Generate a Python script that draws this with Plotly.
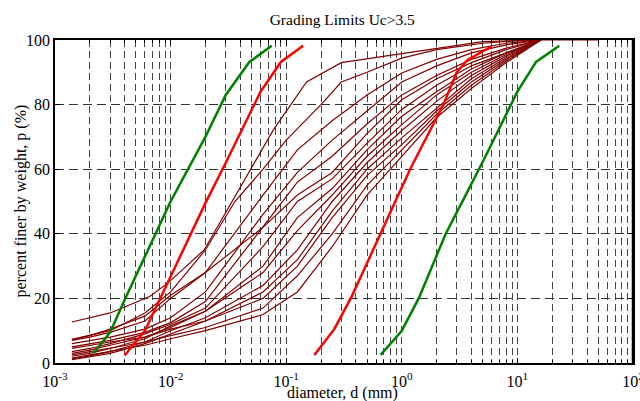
import plotly.graph_objects as go

# ---------------- data ----------------
# limit curves (diameter mm, percent finer)
green_left_d = [0.00215, 0.003, 0.004, 0.006, 0.01, 0.02, 0.03, 0.048, 0.075]
green_left_p = [3.0, 9.5, 19.5, 33.0, 50.0, 70.0, 83.0, 93.2, 98.2]
red_left_d = [0.004, 0.006, 0.02, 0.03, 0.06, 0.09, 0.14]
red_left_p = [2.3, 10.0, 49.5, 62.0, 84.0, 93.2, 98.2]
red_right_d = [0.175, 0.26, 0.37, 0.65, 0.87, 1.18, 2.29, 2.98, 3.7, 6.0]
red_right_p = [2.5, 10.4, 20.7, 40.0, 50.0, 60.0, 80.0, 90.0, 93.8, 98.0]
green_right_d = [0.656, 1.0, 1.4, 2.4, 3.4, 5.3, 10.0, 14.5, 23.0]
green_right_p = [2.5, 10.0, 20.0, 40.0, 50.5, 64.0, 84.0, 93.2, 98.2]

# sample curves
s1_d = [0.0014, 0.003, 0.0066, 0.0095, 0.0195, 0.034, 0.077, 0.15, 0.3, 5.0, 16.0, 50.0]
s1_p = [12.7, 15.5, 20.6, 24.8, 35.0, 50.0, 72.0, 87.0, 93.0, 99.5, 100.0, 100.0]
s2_d = [0.0014, 0.002, 0.003, 0.006, 0.01, 0.02, 0.036, 0.063, 0.1, 0.2, 0.3, 0.5, 1.0, 2.0, 5.0, 10.0, 16.0]
s2_p = [7.3, 8.5, 10.0, 15.5, 22.0, 35.0, 50.0, 60.0, 69.0, 80.0, 87.0, 90.0, 94.4, 97.0, 99.0, 99.8, 100.0]

grid_d = [0.0014, 0.002, 0.003, 0.006, 0.01, 0.02, 0.063, 0.125, 0.25, 0.5, 1.0, 2.0, 4.0, 8.0, 16.0]
s3_p = [7.0, 8.0, 9.5, 13.0, 20.0, 28.0, 52.0, 66.0, 75.0, 83.0, 89.8, 94.0, 97.0, 99.0, 100.0]
s4_p = [6.0, 7.0, 8.0, 10.5, 14.0, 22.0, 46.0, 59.0, 69.0, 78.0, 87.0, 92.0, 96.0, 98.5, 100.0]
s5_p = [5.0, 6.0, 7.0, 9.5, 12.5, 19.0, 42.0, 56.0, 64.0, 74.0, 83.0, 89.0, 94.0, 97.5, 100.0]
s6_p = [7.2, 8.5, 10.5, 14.5, 21.0, 28.0, 42.0, 52.0, 59.0, 71.0, 81.5, 88.0, 93.0, 97.0, 100.0]
s7_p = [3.5, 4.5, 6.0, 9.0, 12.0, 17.0, 36.0, 50.0, 57.0, 68.0, 78.5, 86.0, 92.0, 96.0, 100.0]
s8_p = [3.0, 4.0, 5.5, 8.0, 11.0, 16.0, 30.0, 45.0, 54.0, 66.0, 76.4, 84.0, 91.0, 96.0, 100.0]
s9_p = [2.1, 3.0, 4.5, 7.5, 11.5, 16.0, 28.0, 41.0, 52.0, 64.0, 73.8, 83.0, 90.0, 95.5, 100.0]
s10_p = [1.3, 2.2, 3.5, 6.5, 10.0, 14.0, 24.0, 35.0, 50.0, 62.0, 72.0, 81.0, 89.0, 95.0, 100.0]
s11_p = [1.0, 2.0, 3.0, 6.0, 9.0, 13.0, 22.0, 32.0, 47.0, 60.0, 69.7, 79.0, 88.0, 94.5, 100.0]
s12_p = [4.5, 5.5, 6.5, 8.0, 10.5, 13.0, 20.0, 30.0, 45.0, 58.0, 67.6, 78.0, 87.0, 94.0, 100.0]
s13_p = [2.5, 3.5, 4.5, 6.5, 8.5, 11.0, 17.0, 27.0, 40.0, 55.0, 66.0, 77.0, 86.0, 93.5, 100.0]
s14_p = [1.5, 2.5, 3.5, 5.5, 7.5, 10.0, 15.0, 22.0, 36.0, 52.0, 64.0, 76.0, 85.0, 93.0, 100.0]

x_tick_decades = [-3, -2, -1, 0, 1, 2]
y_ticks = [0, 20, 40, 60, 80, 100]

title_text = "Grading Limits Uc>3.5"
x_title = "diameter, d (mm)"
y_title = "percent finer by weight, p (%)"

# ---------------- figure ----------------
SERIF = "Liberation Serif, Times New Roman, serif"
MAROON = "#800000"
W, H = 640, 401
ML, MR, MT, MB = 55, 7, 40, 37.5

fig = go.Figure()

samples = [(s1_d, s1_p), (s2_d, s2_p)] + [(grid_d, p) for p in
           [s3_p, s4_p, s5_p, s6_p, s7_p, s8_p, s9_p, s10_p, s11_p, s12_p, s13_p, s14_p]]
for d, p in samples:
    fig.add_trace(go.Scatter(x=d, y=p, mode="lines",
                             line=dict(color=MAROON, width=1.2),
                             showlegend=False, hoverinfo="skip"))

for d, p, c in [(green_left_d, green_left_p, "#008000"),
                (red_left_d, red_left_p, "#ff0000"),
                (red_right_d, red_right_p, "#ff0000"),
                (green_right_d, green_right_p, "#008000")]:
    fig.add_trace(go.Scatter(x=d, y=p, mode="lines",
                             line=dict(color=c, width=2.5),
                             showlegend=False, hoverinfo="skip"))

major_vals = [10.0 ** k for k in x_tick_decades]
major_text = ["10<sup>%d</sup>" % k for k in x_tick_decades]
minor_vals = [m * 10.0 ** k for k in x_tick_decades[:-1] for m in range(2, 10)]

fig.update_layout(
    width=W, height=H,
    margin=dict(l=ML, r=MR, t=MT, b=MB, autoexpand=False),
    paper_bgcolor="white", plot_bgcolor="white",
    font=dict(family=SERIF, size=16, color="black"),
    title=dict(text=title_text, x=0.497, xref="paper", xanchor="center",
               y=1 - 20 / H, yref="container", yanchor="middle",
               font=dict(family=SERIF, size=15.5, color="black")),
    xaxis=dict(type="log", range=[-3, 2], automargin=False,
               tickmode="array", tickvals=major_vals, ticktext=major_text,
               ticks="inside", ticklen=5, tickcolor="black",
               ticklabelstandoff=3, ticklabeloverflow="allow",
               showline=True, linecolor="black", linewidth=1.5, mirror="ticks",
               showgrid=True, gridcolor="#444444", gridwidth=1, griddash="7px,4px",
               minor=dict(tickmode="array", tickvals=minor_vals,
                          ticks="inside", ticklen=3, tickcolor="black",
                          showgrid=True, gridcolor="#444444", gridwidth=1,
                          griddash="7px,4px"),
               zeroline=False),
    yaxis=dict(range=[0, 100], tickvals=y_ticks, automargin=False,
               ticks="inside", ticklen=5, tickcolor="black",
               showline=True, linecolor="black", linewidth=1.5, mirror="ticks",
               showgrid=True, gridcolor="#333333", gridwidth=1, griddash="9px,5px",
               zeroline=False),
    shapes=[dict(type="line", xref="paper", yref="paper", x0=1, x1=1, y0=0, y1=1,
                 line=dict(color="black", width=2.5))],
    annotations=[
        dict(text=x_title, xref="paper", yref="paper", x=0.497,
             y=-(394 - (H - MB)) / (H - MT - MB), xanchor="center", yanchor="middle",
             showarrow=False, font=dict(family=SERIF, size=16, color="black")),
        dict(text=y_title, xref="paper", yref="paper", x=-(ML - 20) / (W - ML - MR),
             y=0.5, xanchor="center", yanchor="middle", textangle=-90,
             showarrow=False, font=dict(family=SERIF, size=16, color="black")),
    ],
)

fig.write_html("out.html")
